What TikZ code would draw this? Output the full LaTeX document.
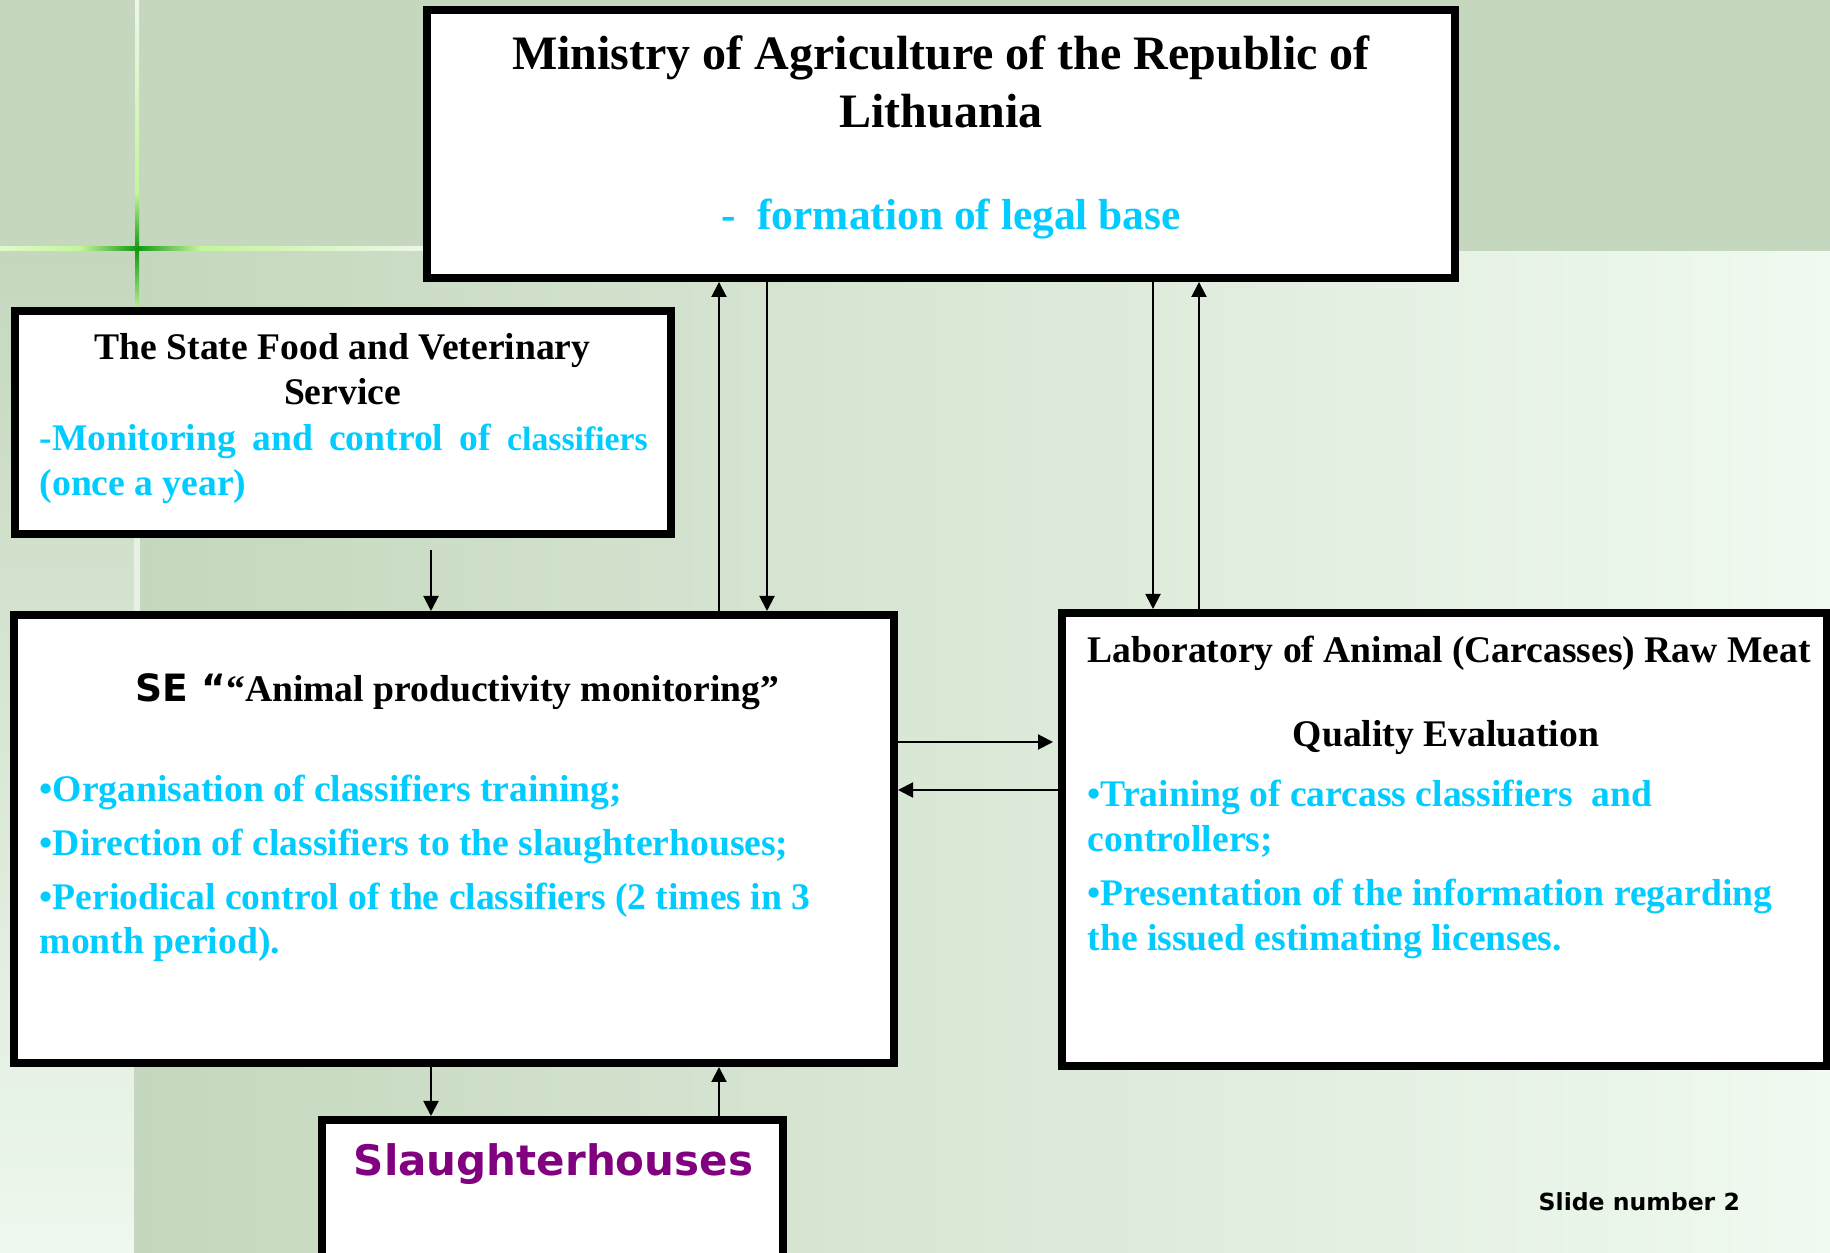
\documentclass[tikz,border=0pt]{standalone}
\usepackage{fontspec}
\setmainfont{Liberation Serif}
\newfontfamily\slidesans{DejaVu Sans}
\usetikzlibrary{arrows.meta}

\definecolor{bgtop}{HTML}{C5D7BE}
\definecolor{bglow}{HTML}{EEF8EE}
\definecolor{bgright}{HTML}{F0FAF0}
\definecolor{lpale}{HTML}{E0FACA}
\definecolor{lgreen}{HTML}{C4F59A}
\definecolor{ldark}{HTML}{129812}
\definecolor{lwhite}{HTML}{EEF6EC}
\definecolor{infoblue}{HTML}{00CCFF}
\definecolor{plum}{HTML}{800080}

\begin{document}
\begin{tikzpicture}[
    box/.style={draw, line width=0.08cm, fill=white, inner sep=0pt},
    head/.style={inner sep=0pt, font=\fontsize{10.7}{12.8}\selectfont\bfseries},
    info/.style={head, text=infoblue},
    arr/.style={line width=0.02cm, -{Triangle[length=0.15cm,width=0.15cm]}}
  ]
  \useasboundingbox (0,0) rectangle (18.3,12.53);
  \clip (0,0) rectangle (18.3,12.53);

  % slide background
  \fill[bgtop] (0,0) rectangle (18.3,12.53);
  \shade[top color=bgtop, bottom color=bglow] (0,0) rectangle (1.34,10.01);
  \shade[left color=bgtop, right color=bgright] (1.34,0) rectangle (18.3,10.01);
  % the glowing cross
  \shade[left color=lpale, right color=lgreen] (0,10.02) rectangle (0.80,10.06);
  \shade[left color=lgreen, right color=ldark] (0.80,10.02) rectangle (1.37,10.06);
  \shade[left color=ldark, right color=lgreen] (1.37,10.02) rectangle (2.00,10.06);
  \shade[left color=lgreen, right color=lwhite] (2.00,10.02) rectangle (4.30,10.06);
  \shade[top color=lwhite, bottom color=lgreen] (1.35,12.53) rectangle (1.39,10.60);
  \shade[top color=lgreen, bottom color=ldark] (1.35,10.60) rectangle (1.39,10.04);
  \shade[top color=ldark, bottom color=lgreen] (1.35,10.04) rectangle (1.39,9.40);
  \fill[lwhite!80!bgtop] (1.34,7.15) rectangle (1.40,6.42);

  % boxes
  \node[box, minimum width=10.28cm, minimum height=2.68cm] (min) at (9.41,11.09) {};
  \node[box, minimum width=6.56cm, minimum height=2.23cm] (vet) at (3.43,8.305) {};
  \node[box, minimum width=8.80cm, minimum height=4.48cm] (se) at (4.54,4.14) {};
  \node[box, minimum width=7.65cm, minimum height=4.53cm] (lab) at (14.445,4.135) {};
  \node[box, minimum width=4.61cm, minimum height=1.76cm] (sl) at (5.525,0.45) {};

  % ministry (base = last line)
  \node[head, anchor=base, align=center, font=\fontsize{13.66}{16.5}\selectfont\bfseries] (mintitle) at (9.41,11.25)
    {Ministry of Agriculture of the Republic of\\Lithuania};
  \node[info, anchor=base, font=\fontsize{12.35}{14}\selectfont\bfseries] (minjob) at (9.51,10.23)
    {-~ formation of legal base};

  % veterinary service
  \node[head, anchor=base, align=center] (vettitle) at (3.425,8.48)
    {The State Food and Veterinary\\Service};
  \node[info, anchor=base west, align=left] (vetjob) at (0.39,7.57)
    {\makebox[6.08cm][s]{-Monitoring and control of {\fontsize{9.6}{12.8}\selectfont classifiers}}\\(once a year)};

  % SE
  \node[head, anchor=base] (setitle) at (4.575,5.51)
    {{\slidesans SE “}“Animal productivity monitoring”};
  \node[info, anchor=base west, align=left] (sejob) at (0.39,2.99)
    {•Organisation of classifiers training;\\[0.09cm]
     •Direction of classifiers to the slaughterhouses;\\[0.09cm]
     •Periodical control of the classifiers (2 times in 3\\month period).};

  % laboratory
  \node[head, anchor=base west] (labtitle) at (10.87,5.90) {Laboratory of Animal (Carcasses) Raw Meat};
  \node[head, anchor=base] (labsub) at (14.46,5.065) {Quality Evaluation};
  \node[info, anchor=base west, align=left] (labjob) at (10.87,3.025)
    {•Training of carcass classifiers\ \ and\\controllers;\\[0.09cm]
     •Presentation of the information regarding\\the issued estimating licenses.};

  % slaughterhouses
  \node[inner sep=0pt, anchor=base, text=plum, font=\slidesans\fontsize{11.95}{14}\selectfont\bfseries] (sltitle) at (5.535,0.77)
    {Slaughterhouses};
  \node[inner sep=0pt, anchor=base west, font=\slidesans\fontsize{6.7}{8}\selectfont\bfseries] (slideno) at (15.38,0.42)
    {Slide number 2};

  % connectors
  \coordinate (ux) at (7.19,0);
  \coordinate (dx) at (7.67,0);
  \coordinate (sx) at (4.31,0);
  \coordinate (lx) at (11.53,0);
  \coordinate (rx) at (11.99,0);
  \coordinate (ey) at (0,5.11);
  \coordinate (wy) at (0,4.63);
  \draw[arr] (se.north -| ux) -- (min.south -| ux);
  \draw[arr] (min.south -| dx) -- (se.north -| dx);
  \draw[arr, shorten <=0.12cm] (vet.south -| sx) -- (se.north -| sx);
  \draw[arr] (min.south -| lx) -- (lab.north -| lx);
  \draw[arr] (lab.north -| rx) -- (min.south -| rx);
  \draw[arr, shorten >=0.05cm] (se.east |- ey) -- (lab.west |- ey);
  \draw[arr] (lab.west |- wy) -- (se.east |- wy);
  \draw[arr] (se.south -| sx) -- (sl.north -| sx);
  \draw[arr] (sl.north -| ux) -- (se.south -| ux);
\end{tikzpicture}
\end{document}
